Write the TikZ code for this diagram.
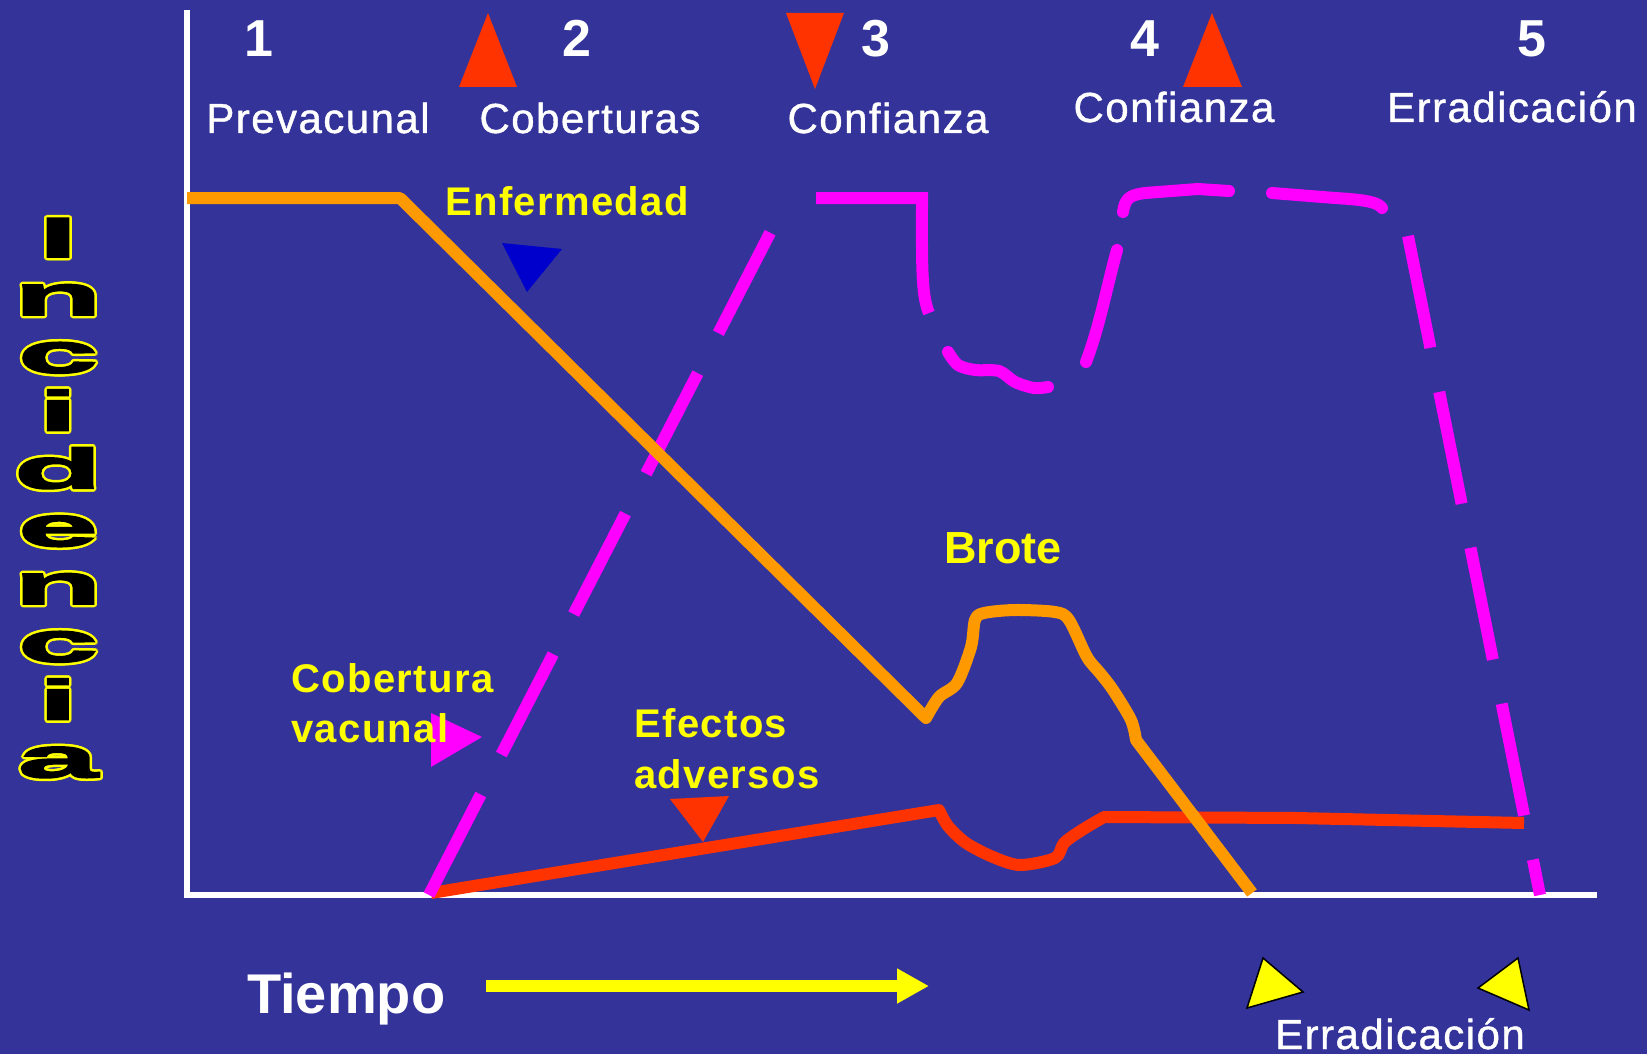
\documentclass[tikz,border=0pt]{standalone}
\usepackage{fontspec}
\setmainfont{Liberation Sans}
\newfontfamily\incfont[FakeStretch=2.6,FakeBold=3.5]{Liberation Sans Bold}
\usetikzlibrary{arrows.meta}

\definecolor{fondo}{RGB}{51,51,153}
\definecolor{naranja}{RGB}{255,153,0}
\definecolor{rojo}{RGB}{255,51,0}
\definecolor{rosa}{RGB}{255,0,255}
\definecolor{azul}{RGB}{0,0,204}
\definecolor{amarillo}{RGB}{255,255,0}

\tikzset{
  numero/.style={text=white, inner sep=0pt, anchor=base, font=\fontsize{52}{52}\selectfont\bfseries},
  etapa/.style={text=white, inner sep=0pt, anchor=base, font=\fontsize{42}{42}\selectfont\addfontfeatures{LetterSpace=3.5,FakeBold=1}},
  nota/.style={text=amarillo, inner sep=0pt, anchor=base west, font=\fontsize{40}{40}\selectfont\bfseries\addfontfeatures{LetterSpace=3.5}},
  letra/.style={inner sep=0pt, anchor=base, font=\fontsize{56}{56}\selectfont\incfont},
  eje/.style={white, line width=6pt},
  curva/.style={line width=12pt, line join=round},
}

\begin{document}
\begin{tikzpicture}[x=1pt,y=-1pt]
                \useasboundingbox (0,0) rectangle (1647,1054);
                \fill[fondo] (0,0) rectangle (1647,1054);

                %% ejes
                \draw[eje] (187,10) -- (187,898);
                \draw[eje] (184,895) -- (1597,895);

                %% efectos adversos
                \draw[curva, rojo] (431,893) -- (939,810) -- plot[smooth, tension=0.5] coordinates {(939,810) (948,826) (966,843) (993,857) (1020,865) (1055,858) (1064,843) (1082,830) (1104,817)} -- (1296,818) -- (1524,823);

                %% cobertura vacunal
                \draw[curva, rosa, dash pattern=on 113pt off 45pt] (429,895) -- (788,198);
                \draw[curva, rosa, line join=miter] (816,198) -- (922,198) .. controls (922,260) and (921,295) .. (929,313);
                \draw[curva, rosa, line cap=round] plot[smooth, tension=0.5] coordinates {(948,352) (958,365) (975,370) (999,371) (1015,382) (1034,388) (1048,387)};
                \draw[curva, rosa, line cap=round] (1086,362) .. controls (1100,325) and (1106,290) .. (1117,250);
                \draw[curva, rosa, line cap=round] (1123,212) .. controls (1125,198) and (1130,195) .. (1145,193) -- (1198,189) -- (1229,191);
                \draw[curva, rosa, line cap=round] (1272,193) -- (1335,198) .. controls (1370,200) and (1378,203) .. (1382,208);
                \draw[curva, rosa, dash pattern=on 114pt off 45pt] (1408,236) -- (1540,895);

                %% enfermedad
                \draw[curva, naranja] (187,198) -- (400,198) -- (926,718) -- plot[smooth, tension=0.5] coordinates {(926,718) (939,697) (957,683) (971,647) (975,620) (984,613) (1015,610) (1055,612) (1069,620) (1087,657) (1100,673) (1113,690) (1131,720) (1136,740)} -- (1252,893);

                %% triangulos
                \fill[rojo] (459,87) -- (517,87) -- (488,13) -- cycle;
                \fill[rojo] (786,13) -- (844,13) -- (815,89) -- cycle;
                \fill[rojo] (1183,87) -- (1242,87) -- (1212,13) -- cycle;
                \fill[azul] (502,243) -- (562,249) -- (527,292) -- cycle;
                \fill[rosa] (431,713) -- (431,767) -- (482,737) -- cycle;
                \fill[rojo] (670,799) -- (729,796) -- (703,842) -- cycle;
                \filldraw[fill=amarillo, draw=black, line width=1.5pt] (1263,958) -- (1303,992) -- (1247,1008) -- cycle;
                \filldraw[fill=amarillo, draw=black, line width=1.5pt] (1518,958) -- (1529,1010) -- (1478,988) -- cycle;

                %% etapas
                \node[numero] (n1) at (259,57) {1};
                \node[numero] (n2) at (577,57) {2};
                \node[numero] (n3) at (876,57) {3};
                \node[numero] (n4) at (1145,57) {4};
                \node[numero] (n5) at (1532,57) {5};
                \node[etapa] (prevacunal) at (318,133) {Prevacunal};
                \node[etapa] (coberturas) at (590,133) {Coberturas};
                \node[etapa] (confianza) at (888,133) {Confianza};
                \node[etapa] (confianzados) at (1174,122) {Confianza};
                \node[etapa] (erradicacion) at (1512,122) {Erradicación};

                %% notas
                \node[nota, anchor=base] (enfermedad) at (567,215) {Enfermedad};
                \node[nota, anchor=base, font=\fontsize{45}{45}\selectfont\bfseries] (brote) at (1003,563) {Brote};
                \node[nota] (cobertura) at (291,692) {Cobertura};
                \node[nota] (vacunal) at (291,742) {vacunal};
                \node[nota] (efectos) at (634,737) {Efectos};
                \node[nota] (adversos) at (634,788) {adversos};

                %% tiempo
                \node[text=white, inner sep=0pt, anchor=base west, font=\fontsize{56}{56}\selectfont\bfseries] (tiempo) at (247,1013) {Tiempo};
                \draw[amarillo, line width=12pt, -{Triangle[length=32pt,width=33pt]}] (486,986) -- (929,986);
                \node[etapa] (erradicacionb) at (1400,1049) {Erradicación};

                %% incidencia
                \foreach \l [count=\k from 0] in {I,n,c,i,d,e,n,c,i,a}{
                  \foreach \a in {0,30,...,330}
                    \node[letra, text=amarillo, shift={(\a:2.5)}] at (58,{257+57.8*\k}) {\l};
                  \node[letra, text=black] (inc\k) at (58,{257+57.8*\k}) {\l};
                }

\end{tikzpicture}
\end{document}
